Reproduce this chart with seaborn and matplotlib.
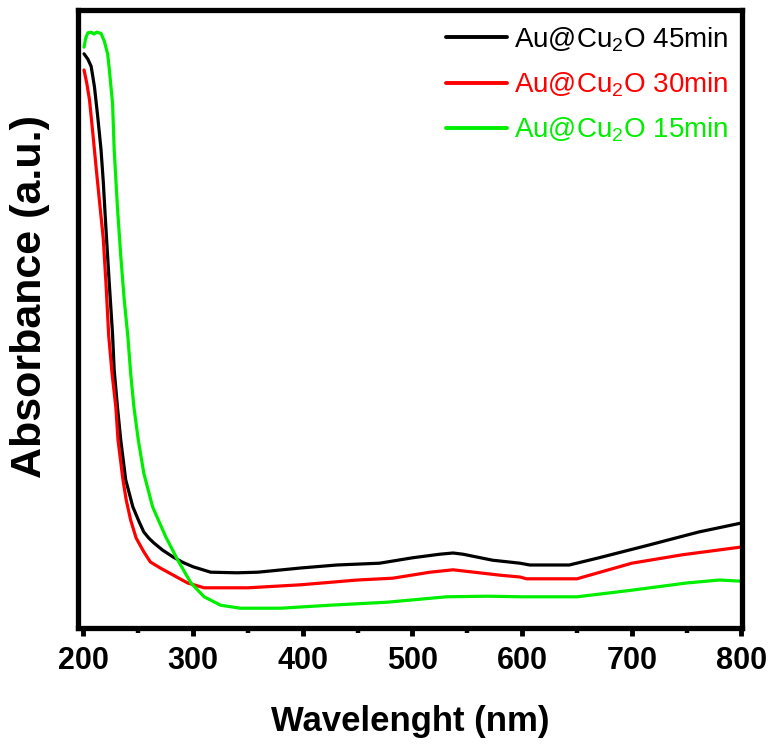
import numpy as np
import pandas as pd
import matplotlib
matplotlib.use("Agg")
import matplotlib.pyplot as plt
from matplotlib.ticker import MultipleLocator
import seaborn as sns

# ---- data ----
wl_45 = [200.5, 204, 207, 210, 213, 216, 218, 220.5, 223.5, 226.5, 228, 231, 234, 238.5, 245,
         250.5, 255, 259.5, 264, 272, 282, 291, 300, 316, 340, 359, 398, 431, 470, 500, 525,
         537, 546, 573, 598, 607, 643, 670, 715, 761, 800]
ab_45 = [0.957, 0.948, 0.936, 0.902, 0.852, 0.797, 0.745, 0.665, 0.575, 0.490, 0.430, 0.368,
         0.313, 0.247, 0.202, 0.178, 0.160, 0.150, 0.142, 0.130, 0.118, 0.109, 0.102, 0.093,
         0.092, 0.093, 0.100, 0.105, 0.108, 0.117, 0.123, 0.125, 0.123, 0.113, 0.108, 0.105,
         0.105, 0.117, 0.138, 0.160, 0.175]

wl_30 = [200.5, 203, 205.5, 208.5, 211.5, 214.5, 218, 220.5, 223, 226, 229.5, 231.5, 236, 239,
         243, 248, 255, 261, 270, 277, 286, 295, 310, 350, 398, 450, 482, 516, 537, 561, 580,
         598, 604, 650, 700, 746, 800]
ab_30 = [0.930, 0.908, 0.880, 0.825, 0.768, 0.713, 0.650, 0.575, 0.487, 0.425, 0.368, 0.313,
         0.247, 0.213, 0.180, 0.150, 0.127, 0.110, 0.100, 0.093, 0.084, 0.075, 0.067, 0.067,
         0.072, 0.080, 0.083, 0.093, 0.097, 0.092, 0.088, 0.085, 0.082, 0.082, 0.108, 0.122,
         0.135]

wl_15 = [200.5, 202, 204, 207, 209.5, 212, 216, 219, 222, 223.5, 225, 226.5, 228, 231, 234,
         237, 240.5, 243, 246, 250, 255, 263, 275, 286, 298, 310, 325, 343, 380, 425, 477, 531,
         568, 600, 650, 700, 750, 780, 800]
ab_15 = [0.968, 0.983, 0.992, 0.993, 0.990, 0.993, 0.991, 0.978, 0.957, 0.932, 0.903, 0.875,
         0.797, 0.700, 0.620, 0.550, 0.485, 0.425, 0.368, 0.313, 0.258, 0.202, 0.152, 0.113,
         0.075, 0.052, 0.038, 0.033, 0.033, 0.038, 0.043, 0.052, 0.053, 0.052, 0.052, 0.063,
         0.075, 0.080, 0.078]

labels = [r"Au@Cu$_2$O 45min", r"Au@Cu$_2$O 30min", r"Au@Cu$_2$O 15min"]
colors = ["#000000", "#ff0000", "#00ee00"]
x_ticks = [200, 300, 400, 500, 600, 700, 800]

frames = []
for lab, wl, ab in zip(labels, [wl_45, wl_30, wl_15], [ab_45, ab_30, ab_15]):
    frames.append(pd.DataFrame({"Wavelength": wl, "Absorbance": ab, "Sample": lab}))
df = pd.concat(frames, ignore_index=True)

sns.set_style("ticks")
plt.rcParams["font.family"] = ["Liberation Sans", "DejaVu Sans"]
plt.rcParams["mathtext.default"] = "regular"
plt.rcParams["text.color"] = "black"
plt.rcParams["axes.labelcolor"] = "black"
plt.rcParams["xtick.color"] = "black"
plt.rcParams["xtick.labelcolor"] = "black"

fig = plt.figure(figsize=(7.7, 7.44), dpi=100)
ax = fig.add_axes([78 / 770, 116 / 744, 664 / 770, 618 / 744])

sns.lineplot(data=df, x="Wavelength", y="Absorbance", hue="Sample", hue_order=labels,
             palette=dict(zip(labels, colors)), linewidth=2.3, ax=ax, estimator=None)

ax.set_xlim(195, 800.5)
ax.set_ylim(0, 1.03)
ax.set_xticks(x_ticks)
ax.set_xticklabels([str(t) for t in x_ticks])
ax.xaxis.set_minor_locator(MultipleLocator(100, offset=50))
ax.set_yticks([])

for s in ax.spines.values():
    s.set_linewidth(3.8)
    s.set_color("black")
ax.tick_params(axis="x", which="major", direction="out", length=6, width=3.5,
               labelsize=22, pad=7, colors="black", labelcolor="black")
ax.tick_params(axis="x", which="minor", direction="out", length=3.5, width=3.2,
               colors="black")
for lbl in ax.get_xticklabels():
    lbl.set_fontweight("bold")

ax.set_xlabel("Wavelenght (nm)", fontsize=25, fontweight="bold", color="black")
ax.set_ylabel("Absorbance (a.u.)", fontsize=31, fontweight="bold", color="black")
ax.xaxis.set_label_coords(0.5, -0.124)
ax.yaxis.set_label_coords(-0.042, 0.536)

leg = ax.legend(loc="upper right", bbox_to_anchor=(1.0, 0.998), frameon=False,
                fontsize=20, handlelength=2.2, handletextpad=0.25, labelspacing=0.6,
                labelcolor="linecolor", borderaxespad=0.1)
for h in leg.get_lines():
    h.set_linewidth(2.8)

fig.savefig("out.png", dpi=100)
